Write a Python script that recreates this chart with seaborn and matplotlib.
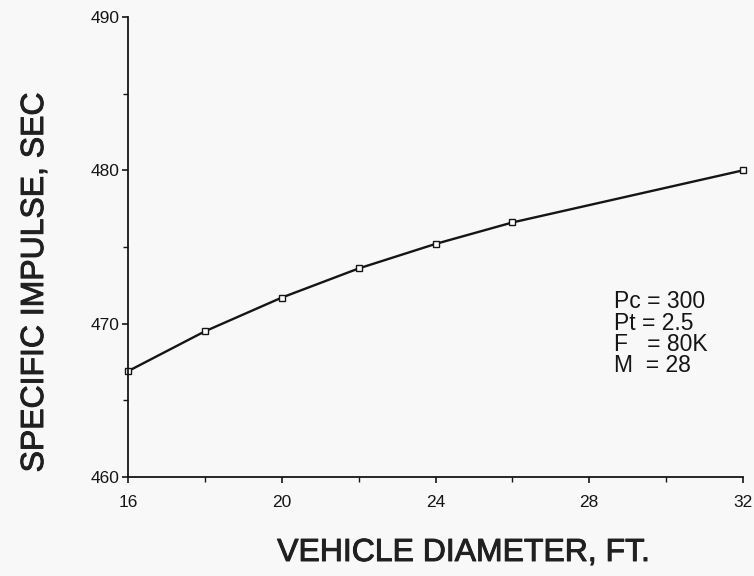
import matplotlib
matplotlib.use("Agg")
import matplotlib.pyplot as plt
import matplotlib.patheffects as pe
import seaborn as sns
import pandas as pd
from matplotlib.ticker import MultipleLocator

diameter = [16, 18, 20, 22, 24, 26, 32]
isp = [466.9, 469.5, 471.7, 473.6, 475.2, 476.6, 480.0]
x_ticks = [16, 20, 24, 28, 32]
y_ticks = [460, 470, 480, 490]
notes = ["Pc = 300", "Pt = 2.5", "F   = 80K", "M  = 28"]

sns.set_theme(style="ticks")
plt.rcParams['font.family'] = ['Liberation Sans', 'DejaVu Sans']

df = pd.DataFrame({"d": diameter, "isp": isp})

fig = plt.figure(figsize=(7.54, 5.76), dpi=100, facecolor="#f8f8f8")
ax = fig.add_axes([128/754, 1-477/576, (743-128)/754, (477-17)/576])
ax.set_facecolor("#f8f8f8")

sns.lineplot(data=df, x="d", y="isp", ax=ax, color="#151515", linewidth=1.7,
             marker="s", markersize=5, markerfacecolor="white",
             markeredgecolor="#151515", markeredgewidth=1.0, clip_on=False)

ax.set_xlim(16, 32)
ax.set_ylim(460, 490)
ax.set_xticks(x_ticks)
ax.set_yticks(y_ticks)
ax.xaxis.set_minor_locator(MultipleLocator(2))
ax.yaxis.set_minor_locator(MultipleLocator(5))
ax.tick_params(axis="both", which="major", length=4, width=1.2, direction="out",
               labelsize=12.5, colors="#151515")
ax.tick_params(axis="y", which="major", pad=2)
ax.tick_params(axis="x", which="major", pad=9)
ax.tick_params(axis="both", which="minor", length=3.5, width=1.0, direction="out",
               colors="#151515")
for s in ["top", "right"]:
    ax.spines[s].set_visible(False)
for s in ["left", "bottom"]:
    ax.spines[s].set_linewidth(1.3)
    ax.spines[s].set_color("#151515")

ax.set_xlabel("")
ax.set_ylabel("")
thick = [pe.withStroke(linewidth=0.7, foreground="#202020")]
fig.text(464/754, 1-553/576, "VEHICLE DIAMETER, FT.", ha="center", va="center",
         fontsize=23, color="#202020", path_effects=thick)
fig.text(35/754, 1-282/576, "SPECIFIC IMPULSE, SEC", ha="center", va="center",
         rotation=90, fontsize=23, color="#202020", path_effects=thick)

for i, line in enumerate(notes):
    fig.text(614/754, 1-(302 + i*21.3)/576, line, ha="left", va="center",
             fontsize=16.5, color="#151515")

fig.savefig("out.png", dpi=100, facecolor=fig.get_facecolor())
